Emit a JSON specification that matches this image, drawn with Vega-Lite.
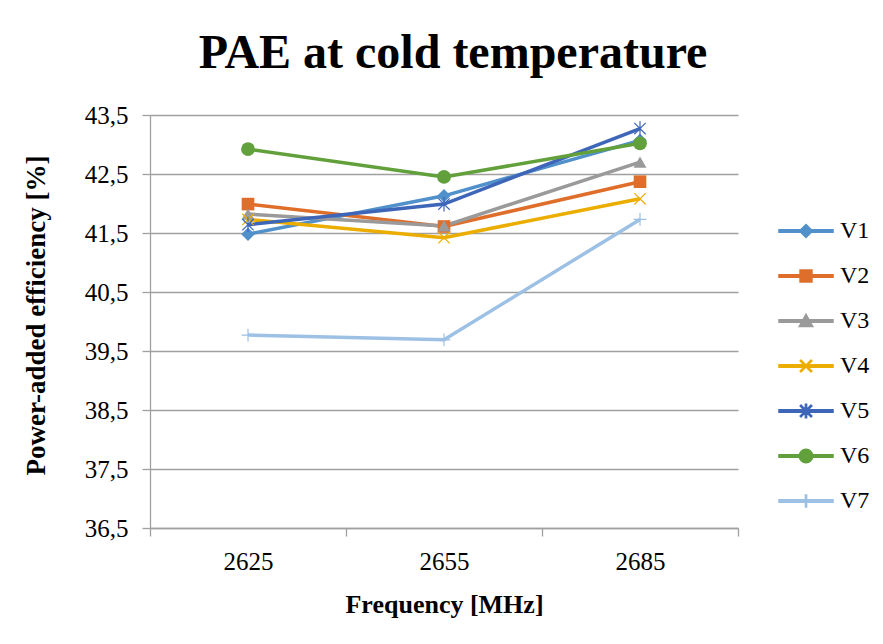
{
  "$schema": "https://vega.github.io/schema/vega-lite/v6.json",
  "autosize": {"type": "none"},
  "padding": {"left": 150, "top": 115, "right": 145, "bottom": 116},
  "width": 588,
  "height": 413,
  "background": "white",
  "title": {"text": "PAE at cold temperature", "font": "Liberation Serif", "fontSize": 48, "fontWeight": "bold", "color": "black", "anchor": "middle", "offset": 25, "dx": 9},
  "config": {"view": {"stroke": null}},
  "data": {"values": [
    {"freq": "2625", "series": "V1", "pae": 41.48},
    {"freq": "2655", "series": "V1", "pae": 42.13},
    {"freq": "2685", "series": "V1", "pae": 43.07},
    {"freq": "2625", "series": "V2", "pae": 41.99},
    {"freq": "2655", "series": "V2", "pae": 41.61},
    {"freq": "2685", "series": "V2", "pae": 42.37},
    {"freq": "2625", "series": "V3", "pae": 41.82},
    {"freq": "2655", "series": "V3", "pae": 41.62},
    {"freq": "2685", "series": "V3", "pae": 42.70},
    {"freq": "2625", "series": "V4", "pae": 41.73},
    {"freq": "2655", "series": "V4", "pae": 41.42},
    {"freq": "2685", "series": "V4", "pae": 42.08},
    {"freq": "2625", "series": "V5", "pae": 41.64},
    {"freq": "2655", "series": "V5", "pae": 41.99},
    {"freq": "2685", "series": "V5", "pae": 43.27},
    {"freq": "2625", "series": "V6", "pae": 42.92},
    {"freq": "2655", "series": "V6", "pae": 42.45},
    {"freq": "2685", "series": "V6", "pae": 43.02},
    {"freq": "2625", "series": "V7", "pae": 39.77},
    {"freq": "2655", "series": "V7", "pae": 39.69},
    {"freq": "2685", "series": "V7", "pae": 41.73}
  ]},
  "encoding": {
    "x": {"field": "freq", "type": "ordinal", "sort": null,
      "scale": {"type": "band", "paddingInner": 0, "paddingOuter": 0},
      "axis": {"title": "Frequency [MHz]", "labelAngle": 0, "tickBand": "extent", "grid": false,
        "domainColor": "#A0A0A0", "domainWidth": 1.3, "tickColor": "#A0A0A0", "tickWidth": 1.3, "tickSize": 8,
        "labelFont": "Liberation Serif", "labelFontSize": 25, "labelColor": "black", "labelPadding": 13,
        "titleFont": "Liberation Serif", "titleFontSize": 26, "titleFontWeight": "bold", "titleColor": "black", "titlePadding": 17}},
    "y": {"field": "pae", "type": "quantitative",
      "scale": {"domain": [36.5, 43.5], "nice": false, "zero": false},
      "axis": {"title": "Power-added efficiency [%]", "values": [36.5, 37.5, 38.5, 39.5, 40.5, 41.5, 42.5, 43.5],
        "labelExpr": "replace(format(datum.value, '.1f'), '.', ',')",
        "grid": true, "gridColor": "#A0A0A0", "gridWidth": 1.3,
        "domainColor": "#A0A0A0", "domainWidth": 1.3, "tickColor": "#A0A0A0", "tickWidth": 1.3, "tickSize": 8,
        "labelFont": "Liberation Serif", "labelFontSize": 25, "labelColor": "black", "labelPadding": 14,
        "titleFont": "Liberation Serif", "titleFontSize": 27, "titleFontWeight": "bold", "titleColor": "black", "titlePadding": 34, "titleY": 200}}
  },
  "layer": [
    {
      "mark": {"type": "line", "strokeWidth": 3.5},
      "encoding": {
        "color": {"field": "series", "type": "nominal",
          "scale": {"domain": ["V1", "V2", "V3", "V4", "V5", "V6", "V7"], "range": ["#5090CB", "#DE6E2A", "#9A9A9A", "#EBAE00", "#3E66B8", "#62A03C", "#9DC0E5"]},
          "legend": {"title": null, "orient": "none", "legendX": 628, "legendY": 88,
            "symbolSize": 2916,
            "labelFont": "Liberation Serif", "labelFontSize": 24, "labelColor": "black",
            "labelOffset": 6, "rowPadding": 5}}
      }
    },
    {
      "transform": [{"filter": "datum.series === 'V1'"}],
      "mark": {"type": "point", "shape": "diamond", "filled": true, "size": 180, "color": "#5090CB", "opacity": 1}
    },
    {
      "transform": [{"filter": "datum.series === 'V2'"}],
      "mark": {"type": "point", "shape": "square", "filled": true, "size": 160, "color": "#DE6E2A", "opacity": 1}
    },
    {
      "transform": [{"filter": "datum.series === 'V3'"}],
      "mark": {"type": "point", "shape": "triangle-up", "filled": true, "size": 170, "color": "#9A9A9A", "opacity": 1}
    },
    {
      "transform": [{"filter": "datum.series === 'V4'"}],
      "mark": {"type": "point", "shape": "M-0.85,-0.85L0.85,0.85M-0.85,0.85L0.85,-0.85", "filled": false, "size": 180, "color": "#EBAE00", "strokeWidth": 1.2, "opacity": 1}
    },
    {
      "transform": [{"filter": "datum.series === 'V5'"}],
      "mark": {"type": "point", "shape": "M-0.85,-0.85L0.85,0.85M-0.85,0.85L0.85,-0.85M0,-1.1L0,1.1", "filled": false, "size": 180, "color": "#3E66B8", "strokeWidth": 1.2, "opacity": 1}
    },
    {
      "transform": [{"filter": "datum.series === 'V6'"}],
      "mark": {"type": "point", "shape": "circle", "filled": true, "size": 190, "color": "#62A03C", "opacity": 1}
    },
    {
      "transform": [{"filter": "datum.series === 'V7'"}],
      "mark": {"type": "point", "shape": "M-1,0L1,0M0,-1L0,1", "filled": false, "size": 160, "color": "#9DC0E5", "strokeWidth": 1.2, "opacity": 1}
    },
    {
      "mark": {"type": "point", "filled": true, "size": 0, "opacity": 1},
      "encoding": {
        "color": {"field": "series", "type": "nominal", "legend": null},
        "shape": {"field": "series", "type": "nominal", "legend": null,
          "scale": {"domain": ["V1", "V2", "V3", "V4", "V5", "V6", "V7"], "range": [
            "M-1,-0.045H1V0.045H-1Z M0,-0.24L0.24,0L0,0.24L-0.24,0Z",
            "M-1,-0.045H1V0.045H-1Z M-0.22,-0.22H0.22V0.22H-0.22Z",
            "M-1,-0.045H1V0.045H-1Z M0,-0.25L0.25,0.2H-0.25Z",
            "M-1,-0.045H1V0.045H-1Z M-0.2156,-0.1844L-0.1844,-0.2156L0.2156,0.1844L0.1844,0.2156Z M-0.2156,0.1844L0.1844,-0.2156L0.2156,-0.1844L-0.1844,0.2156Z",
            "M-1,-0.045H1V0.045H-1Z M-0.2156,-0.1844L-0.1844,-0.2156L0.2156,0.1844L0.1844,0.2156Z M-0.2156,0.1844L0.1844,-0.2156L0.2156,-0.1844L-0.1844,0.2156Z M-0.022,-0.25H0.022V0.25H-0.022Z",
            "M-1,-0.045H1V0.045H-1Z M-0.25,0A0.25,0.25,0,1,1,0.25,0A0.25,0.25,0,1,1,-0.25,0Z",
            "M-1,-0.045H1V0.045H-1Z M-0.022,-0.22H0.022V0.22H-0.022Z"
          ]}}
      }
    }
  ]
}
